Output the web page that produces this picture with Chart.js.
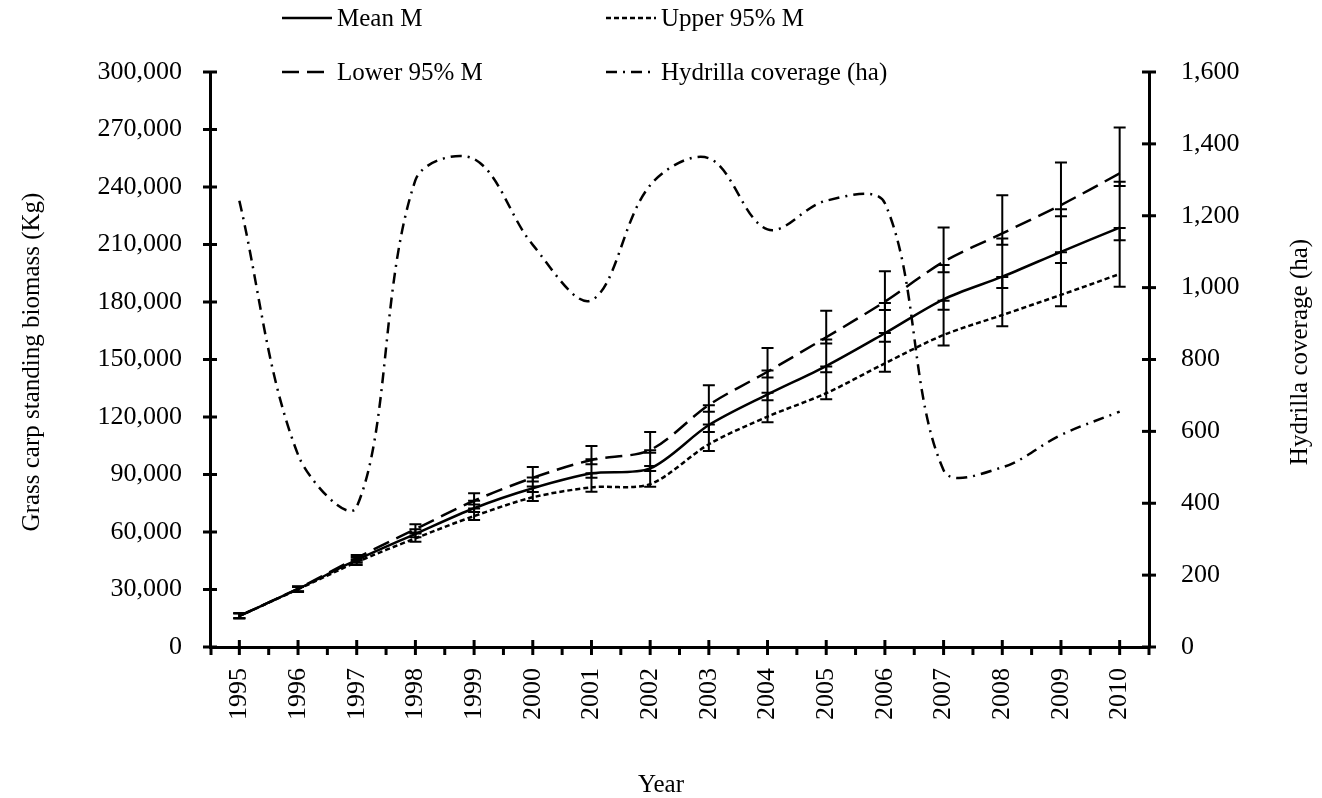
<!DOCTYPE html>
<html lang="en">
<head>
<meta charset="UTF-8">
<title>Grass carp standing biomass and Hydrilla coverage</title>
<style>
  body { margin: 0; background: #fff; }
  canvas { display: block; }
</style>
</head>
<body>
<canvas id="chart" width="1322" height="798"></canvas>
<script src="https://cdn.jsdelivr.net/npm/chart.js@4"></script>
<script>
// values
const years = ['1995', '1996', '1997', '1998', '1999', '2000', '2001', '2002',
               '2003', '2004', '2005', '2006', '2007', '2008', '2009', '2010'];
const meanM = [16200, 30300, 45400, 59000, 72400, 82800, 90600, 93200,
               115800, 131800, 146600, 163700, 181400, 193200, 206200, 218800];
const upper95M = [16200, 30100, 44300, 56700, 68300, 78100, 83300, 85000,
                  105800, 120200, 132400, 148000, 162800, 173200, 183700, 194600];
const lower95M = [16200, 30500, 46500, 61500, 76300, 88300, 97600, 102800,
                  126300, 143600, 161600, 180200, 201000, 215800, 230600, 247100];
// error bars (same on each biomass series)
const errPlus = [1400, 1200, 1500, 2500, 3900, 5600, 7300, 9400,
                 10300, 12400, 13900, 15800, 17900, 19900, 22200, 24000];
const errMinus = [1200, 1400, 1500, 1800, 2000, 1900, 2300, 1400,
                  3600, 3000, 3200, 4400, 5500, 5900, 5900, 6600];
const hydrilla = [1242, 535, 390, 1299, 1358, 1119, 965, 1285,
                  1360, 1162, 1242, 1235, 492, 500, 590, 655];

const leftTicks = [0, 30000, 60000, 90000, 120000, 150000, 180000, 210000, 240000, 270000, 300000];
const rightTicks = [0, 200, 400, 600, 800, 1000, 1200, 1400, 1600];

const FONT = '"Liberation Serif", "Times New Roman", serif';
const fmt = v => v.toLocaleString('en-US');

// draws axis ticks, error bars, legend and axis titles
const extras = {
    id: 'extras',
    afterDraw(chart) {
        const ctx = chart.ctx;
        const x = chart.scales.x, y = chart.scales.y, y1 = chart.scales.y1;
        const area = chart.chartArea;
        ctx.save();
        ctx.strokeStyle = '#000';
        ctx.fillStyle = '#000';

        // error bars
        ctx.lineWidth = 2;
        ctx.setLineDash([]);
        [meanM, upper95M, lower95M].forEach(series => {
            series.forEach((v, i) => {
                const px = x.getPixelForValue(i);
                const top = y.getPixelForValue(v + errPlus[i]);
                const bot = y.getPixelForValue(v - errMinus[i]);
                ctx.beginPath();
                ctx.moveTo(px, top); ctx.lineTo(px, bot);
                ctx.moveTo(px - 6, top); ctx.lineTo(px + 6, top);
                ctx.moveTo(px - 6, bot); ctx.lineTo(px + 6, bot);
                ctx.stroke();
            });
        });

        // ticks
        ctx.lineWidth = 3;
        leftTicks.forEach(v => {
            const py = y.getPixelForValue(v);
            ctx.beginPath(); ctx.moveTo(area.left - 7, py); ctx.lineTo(area.left + 7, py); ctx.stroke();
        });
        rightTicks.forEach(v => {
            const py = y1.getPixelForValue(v);
            ctx.beginPath(); ctx.moveTo(area.right - 7, py); ctx.lineTo(area.right + 7, py); ctx.stroke();
        });
        const half = (x.getPixelForValue(1) - x.getPixelForValue(0)) / 2;
        years.forEach((yr, i) => {
            const px = x.getPixelForValue(i);
            ctx.beginPath(); ctx.moveTo(px, area.bottom - 7); ctx.lineTo(px, area.bottom + 8); ctx.stroke();
            ctx.beginPath(); ctx.moveTo(px + half, area.bottom); ctx.lineTo(px + half, area.bottom + 8); ctx.stroke();
        });
        ctx.beginPath(); ctx.moveTo(area.left + 1, area.bottom); ctx.lineTo(area.left + 1, area.bottom + 8); ctx.stroke();

        // legend, 2 x 2
        const items = [
            { ds: 0, x: 282, y: 18 }, { ds: 1, x: 606, y: 18 },
            { ds: 2, x: 282, y: 72 }, { ds: 3, x: 606, y: 72 }
        ];
        ctx.font = '25px ' + FONT;
        ctx.textBaseline = 'middle';
        ctx.textAlign = 'left';
        items.forEach(it => {
            const ds = chart.data.datasets[it.ds];
            ctx.lineWidth = ds.borderWidth;
            ctx.setLineDash(ds.borderDash || []);
            ctx.beginPath(); ctx.moveTo(it.x, it.y); ctx.lineTo(it.x + 50, it.y); ctx.stroke();
            ctx.setLineDash([]);
            ctx.fillText(ds.label, it.x + 55, it.y + 1);
        });

        // axis titles
        ctx.textAlign = 'center';
        ctx.fillText('Year', 661, 785);
        ctx.save();
        ctx.translate(32, 362); ctx.rotate(-Math.PI / 2);
        ctx.fillText('Grass carp standing biomass (Kg)', 0, 0);
        ctx.restore();
        ctx.save();
        ctx.translate(1300, 352); ctx.rotate(-Math.PI / 2);
        ctx.fillText('Hydrilla coverage (ha)', 0, 0);
        ctx.restore();
        ctx.restore();
    }
};

new Chart(document.getElementById('chart'), {
    type: 'line',
    data: {
        labels: years,
        datasets: [
            { label: 'Mean M', data: meanM, yAxisID: 'y', borderColor: '#000',
              borderWidth: 2.5, pointRadius: 0, tension: 0.3, fill: false },
            { label: 'Upper 95% M', data: upper95M, yAxisID: 'y', borderColor: '#000',
              borderWidth: 2.5, borderDash: [5, 3], pointRadius: 0, tension: 0.3, fill: false },
            { label: 'Lower 95% M', data: lower95M, yAxisID: 'y', borderColor: '#000',
              borderWidth: 2.5, borderDash: [17, 8], pointRadius: 0, tension: 0.3, fill: false },
            { label: 'Hydrilla coverage (ha)', data: hydrilla, yAxisID: 'y1', borderColor: '#000',
              borderWidth: 2.5, borderDash: [11, 6, 2, 6], pointRadius: 0, tension: 0.35, fill: false }
        ]
    },
    options: {
        responsive: false,
        animation: false,
        devicePixelRatio: 1,
        layout: { padding: { top: 72 } },
        plugins: { legend: { display: false }, tooltip: { enabled: false } },
        scales: {
            x: {
                offset: true,
                grid: { display: false },
                border: { display: true, color: '#000', width: 3 },
                ticks: { color: '#000', font: { family: FONT, size: 26 },
                         maxRotation: 90, minRotation: 90, padding: 13 },
                afterFit: s => { s.height = 151; }
            },
            y: {
                position: 'left',
                min: 0, max: 300000,
                grid: { display: false },
                border: { display: true, color: '#000', width: 3 },
                ticks: { stepSize: 30000, color: '#000', font: { family: FONT, size: 26 },
                         padding: 20, callback: v => fmt(v) },
                afterFit: s => { s.width = 210; }
            },
            y1: {
                position: 'right',
                min: 0, max: 1600,
                grid: { display: false },
                border: { display: true, color: '#000', width: 3 },
                ticks: { stepSize: 200, color: '#000', font: { family: FONT, size: 26 },
                         padding: 24, callback: v => fmt(v) },
                afterFit: s => { s.width = 173; }
            }
        }
    },
    plugins: [extras]
});
</script>
</body>
</html>
